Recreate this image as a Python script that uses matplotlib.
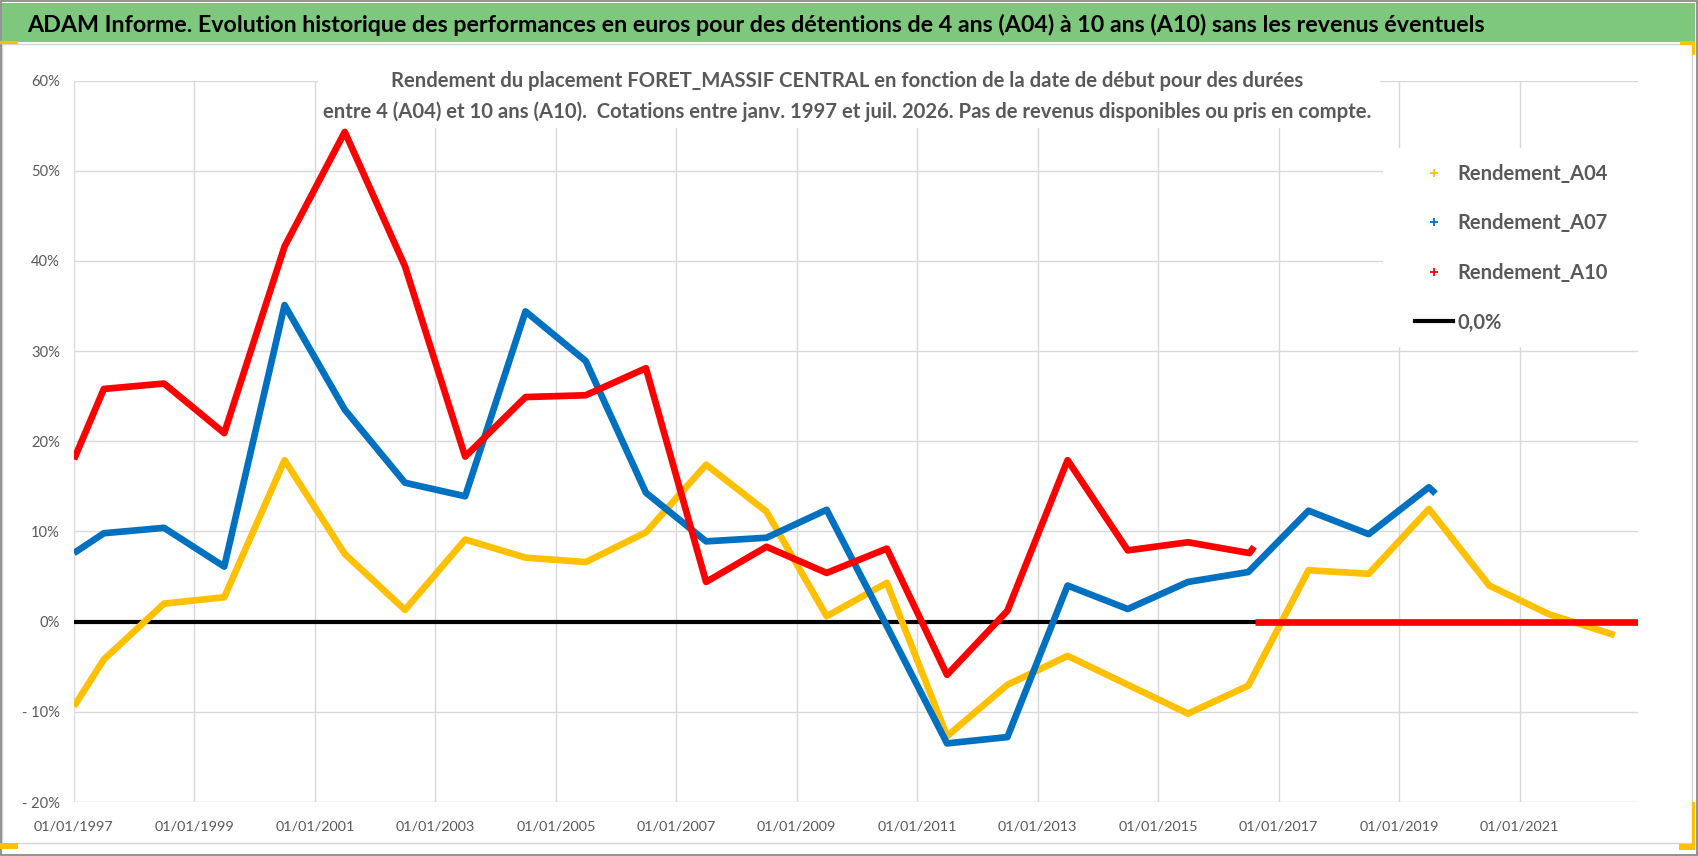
import matplotlib
matplotlib.use("Agg")
import matplotlib.pyplot as plt
import matplotlib.dates as mdates
from matplotlib.patches import Rectangle
from matplotlib.lines import Line2D
from matplotlib.ticker import FixedLocator, FuncFormatter
import pandas as pd

# ---------------- data ----------------
dates_a04 = ["1997-01-01", "1997-07-01", "1998-07-01", "1999-07-01", "2000-07-01", "2001-07-01",
             "2002-07-01", "2003-07-01", "2004-07-01", "2005-07-01", "2006-07-01", "2007-07-01",
             "2008-07-01", "2009-07-01", "2010-07-01", "2011-07-01", "2012-07-01", "2013-07-01",
             "2014-07-01", "2015-07-01", "2016-07-01", "2017-07-01", "2018-07-01", "2019-07-01",
             "2020-07-01", "2021-07-01", "2022-08-01"]
rendement_a04 = [-9.4, -4.2, 2.0, 2.7, 17.9, 7.5, 1.3, 9.1, 7.1, 6.6, 9.9, 17.4, 12.2, 0.6, 4.3,
                 -12.7, -7.0, -3.8, -7.0, -10.2, -7.1, 5.7, 5.3, 12.5, 4.0, 0.8, -1.5]

dates_a07 = ["1997-01-01", "1997-07-01", "1998-07-01", "1999-07-01", "2000-07-01", "2001-07-01",
             "2002-07-01", "2003-07-01", "2004-07-01", "2005-07-01", "2006-07-01", "2007-07-01",
             "2008-07-01", "2009-07-01", "2010-07-01", "2011-07-01", "2012-07-01", "2013-07-01",
             "2014-07-01", "2015-07-01", "2016-07-01", "2017-07-01", "2018-07-01", "2019-07-01",
             "2019-08-10"]
rendement_a07 = [7.6, 9.8, 10.4, 6.1, 35.1, 23.5, 15.4, 13.9, 34.4, 28.9, 14.3, 8.9, 9.3, 12.4, -0.5,
                 -13.5, -12.8, 4.0, 1.4, 4.4, 5.5, 12.3, 9.7, 14.9, 14.2]

dates_a10 = ["1997-01-01", "1997-07-01", "1998-07-01", "1999-07-01", "2000-07-01", "2001-07-01",
             "2002-07-01", "2003-07-01", "2004-07-01", "2005-07-01", "2006-07-01", "2007-07-01",
             "2008-07-01", "2009-07-01", "2010-07-01", "2011-07-01", "2012-07-01", "2013-07-01",
             "2014-07-01", "2015-07-01", "2016-07-08", "2016-08-05"]
rendement_a10 = [18.0, 25.8, 26.4, 20.9, 41.6, 54.3, 39.4, 18.3, 24.9, 25.1, 28.1, 4.4, 8.3, 5.4, 8.1,
                 -5.9, 1.2, 17.9, 7.9, 8.8, 7.6, 8.3]
# A10 returns not available after mid-2016: reported as 0
dates_a10_zero = ["2016-08-12", "2022-12-20"]
rendement_a10_zero = [0.0, 0.0]

series_labels = ["Rendement_A04", "Rendement_A07", "Rendement_A10", "0,0%"]
x_tick_dates = ["1997-01-01", "1999-01-01", "2001-01-01", "2003-01-01", "2005-01-01", "2007-01-01",
                "2009-01-01", "2011-01-01", "2013-01-01", "2015-01-01", "2017-01-01", "2019-01-01",
                "2021-01-01"]
y_ticks = [-20, -10, 0, 10, 20, 30, 40, 50, 60]

title = ("ADAM Informe. Evolution historique des performances en euros pour des détentions "
         "de 4 ans (A04) à 10 ans (A10) sans les revenus éventuels")
subtitle1 = "Rendement du placement FORET_MASSIF CENTRAL en fonction de la date de début pour des durées"
subtitle2 = ("entre 4 (A04) et 10 ans (A10).  Cotations entre janv. 1997 et juil. 2026. "
             "Pas de revenus disponibles ou pris en compte.")

# ---------------- style ----------------
W, H, DPI = 1698, 856, 100
FAM = ["Lato", "DejaVu Sans"]
plt.rcParams["font.family"] = FAM
YELLOW, BLUE, RED = "#FFC000", "#0070C0", "#FF0000"
GREY_TXT = "#595959"
GRID = "#D9D9D9"


def fx(px):
    return px / W


def fy(py):
    return 1 - py / H


fig = plt.figure(figsize=(W / DPI, H / DPI), dpi=DPI)
fig.patch.set_facecolor("white")
renderer = fig.canvas.get_renderer()


def fit_size(text, target_px, weight="normal"):
    t = fig.text(0, 0, text, fontsize=20, fontweight=weight, family=FAM)
    w = t.get_window_extent(renderer).width
    t.remove()
    return 20 * target_px / w


# frame decorations
fig.patches.append(Rectangle((fx(2), fy(42)), fx(1695) - fx(2), 39 / H, transform=fig.transFigure,
                             facecolor="#7EC87E", edgecolor="none", zorder=0.1))
fig.patches.append(Rectangle((fx(2), fy(843)), fx(1692) - fx(2), (843 - 44) / H, transform=fig.transFigure,
                             facecolor="none", edgecolor="#D4D4D4", lw=1.0, zorder=0.1))
fig.patches.append(Rectangle((fx(0.7), fy(855.3)), fx(1697.3) - fx(0.7), 854.6 / H, transform=fig.transFigure,
                             facecolor="none", edgecolor="#7F7F7F", lw=1.2, zorder=0.2))
for (x0, y0, x1, y1) in [(0, 41, 18, 44), (1680, 41, 1695, 44.5), (1692, 41, 1695, 55),
                         (1692, 802, 1695, 850), (1679, 843.5, 1695, 850), (0, 843, 18, 849)]:
    fig.patches.append(Rectangle((fx(x0), fy(y1)), fx(x1) - fx(x0), (y1 - y0) / H,
                                 transform=fig.transFigure, facecolor=YELLOW, edgecolor="none", zorder=0.3))

# title
fs_title = fit_size(title, 1466, "bold")
fig.text(fx(27), fy(31.5), title, fontsize=fs_title, fontweight="bold", color="black",
         ha="left", va="baseline")

# axes
ax = fig.add_axes([fx(74), fy(802), fx(1638) - fx(74), (802 - 80.5) / H])
ax.set_facecolor("none")

lw = 4.8
ax.axhline(0, color="black", lw=3.0, zorder=2.0)
ax.plot(pd.to_datetime(dates_a04), rendement_a04, color=YELLOW, lw=lw, zorder=2.2,
        solid_joinstyle="round", solid_capstyle="butt")
ax.plot(pd.to_datetime(dates_a07), rendement_a07, color=BLUE, lw=lw, zorder=2.3,
        solid_joinstyle="round", solid_capstyle="butt")
ax.plot(pd.to_datetime(dates_a10), rendement_a10, color=RED, lw=lw, zorder=2.4,
        solid_joinstyle="round", solid_capstyle="butt")
ax.plot(pd.to_datetime(dates_a10_zero), rendement_a10_zero, color=RED, lw=lw, zorder=2.4,
        solid_capstyle="butt")

ax.set_xlim(pd.Timestamp("1997-01-01"), pd.Timestamp("2022-12-20"))
ax.set_ylim(-20, 60)
ax.xaxis.set_major_locator(FixedLocator(mdates.date2num(pd.to_datetime(x_tick_dates))))
ax.xaxis.set_major_formatter(mdates.DateFormatter("%d/%m/%Y"))
ax.set_yticks(y_ticks)
ax.yaxis.set_major_formatter(FuncFormatter(lambda v, p: f"{int(v)}%" if v >= 0 else f"- {int(abs(v))}%"))

fs_tick = fit_size("01/01/1997", 80)
fs_ytick = fit_size("60%", 29)
ax.tick_params(axis="both", length=0, labelcolor=GREY_TXT)
ax.tick_params(axis="x", pad=13, labelsize=fs_tick)
ax.tick_params(axis="y", pad=10, labelsize=fs_ytick)
ax.grid(True, color=GRID, lw=1.0)
ax.set_axisbelow(True)
for s in ax.spines.values():
    s.set_visible(False)

# subtitle with white box
fig.patches.append(Rectangle((fx(318), fy(128)), fx(1380) - fx(318), 73 / H, transform=fig.transFigure,
                             facecolor="white", edgecolor="none", zorder=1))
fs_sub = fit_size(subtitle2, 1050, "bold")
fig.text(fx(847), fy(87), subtitle1, fontsize=fs_sub, fontweight="bold", color=GREY_TXT,
         ha="center", va="baseline", zorder=2)
fig.text(fx(847), fy(118), subtitle2, fontsize=fs_sub, fontweight="bold", color=GREY_TXT,
         ha="center", va="baseline", zorder=2)

# legend
ax.add_patch(Rectangle((fx(1383), fy(347)), fx(1640) - fx(1383), (347 - 148) / H,
                       transform=fig.transFigure, facecolor="white", edgecolor="none",
                       zorder=3, clip_on=False))
fs_leg = fit_size("Rendement_A04", 151, "bold")
fpx = fs_leg * DPI / 72
handles = [Line2D([], [], color=YELLOW, marker="+", ls="none", ms=6, mew=1.3),
           Line2D([], [], color=BLUE, marker="+", ls="none", ms=6, mew=1.3),
           Line2D([], [], color=RED, marker="+", ls="none", ms=6, mew=1.3),
           Line2D([], [], color="black", lw=3.0)]
leg = ax.legend(handles, series_labels, loc="upper left", bbox_to_anchor=(fx(1415), fy(164)),
                bbox_transform=fig.transFigure, frameon=False, borderpad=0, borderaxespad=0,
                handlelength=38 / fpx, handletextpad=4 / fpx, labelspacing=1.46,
                prop={"family": FAM, "weight": "bold", "size": fs_leg})
leg.set_zorder(5)
for t in leg.get_texts():
    t.set_color(GREY_TXT)

fig.savefig("out.png", dpi=DPI, facecolor="white")
